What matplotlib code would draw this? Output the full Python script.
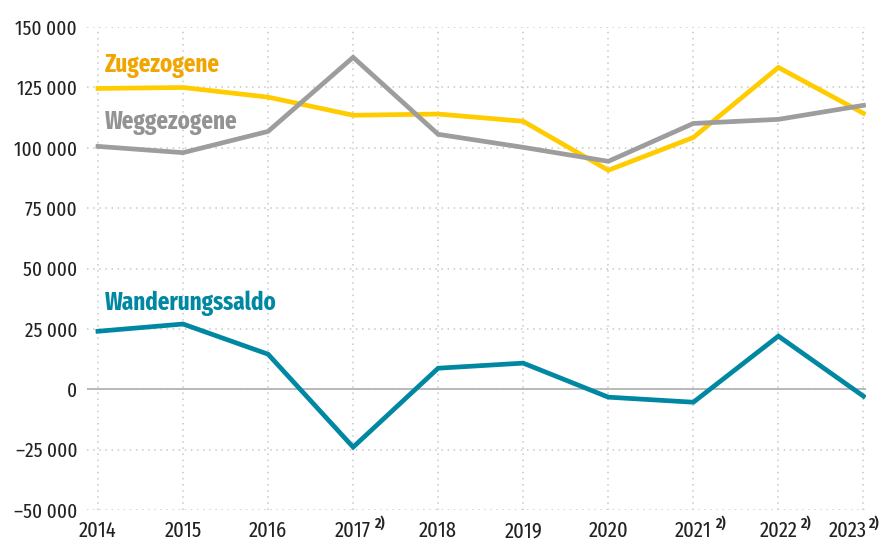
import matplotlib.pyplot as plt

years = [2014, 2015, 2016, 2017, 2018, 2019, 2020, 2021, 2022, 2023]
year_labels = ['2014', '2015', '2016', '2017', '2018', '2019', '2020', '2021', '2022', '2023']
footnote_years = [2017, 2021, 2022, 2023]
zugezogene = [124600, 125000, 121000, 113500, 114000, 111000, 90700, 104300, 133300, 114300]
weggezogene = [100600, 98000, 106800, 137500, 105600, 100200, 94400, 110100, 111800, 117600]
saldo = [24000, 27000, 14500, -24000, 8700, 10800, -3300, -5400, 22000, -2900]
yticks = [-50000, -25000, 0, 25000, 50000, 75000, 100000, 125000, 150000]

plt.rcParams['font.family'] = ['Fira Sans Extra Condensed', 'DejaVu Sans']

fig = plt.figure(figsize=(8.96, 5.43), dpi=100)
ax = fig.add_axes([0.097, 0.061, 0.870, 0.889])

ax.plot(years, zugezogene, color='#FFCC00', lw=3.4, solid_joinstyle='miter', zorder=3)
ax.plot(years, weggezogene, color='#9D9D9D', lw=3.4, solid_joinstyle='miter', zorder=3)
ax.plot(years, saldo, color='#0088A3', lw=3.4, solid_joinstyle='miter', zorder=4)
ax.axhline(0, color='#B4B4B4', lw=1.3, zorder=2)

ax.set_xlim(2013.87, 2023.035)
ax.set_ylim(-50000, 150000)
ax.set_xticks(years)
# letzte Jahreszahl wird unten von Hand gesetzt (rechtsbündig)
ax.set_xticklabels(year_labels[:-1] + [''])
ax.set_yticks(yticks)
ax.set_yticklabels([f'{v:,}'.replace(',', ' ').replace('-', '–') for v in yticks])
ax.tick_params(length=0, colors='#222222')
ax.tick_params(axis='y', pad=7, labelsize=15)
ax.tick_params(axis='x', pad=7.5, labelsize=16)
ax.grid(True, color='#C8C8C8', ls=(0, (1, 3)), lw=1.1)
for s in ax.spines.values():
    s.set_visible(False)

trans = ax.get_xaxis_transform()
ax.annotate(year_labels[-1], xy=(2023.035, 0), xycoords=trans, xytext=(0, -7.5),
            textcoords='offset points', ha='right', va='top', fontsize=16, color='#222222')

# Fußnotenzeichen hinter den Jahreszahlen
for y in footnote_years:
    x0 = 2023.035 + 0.02 if y == 2023 else y + 0.25
    ax.annotate('2)', xy=(x0, 0), xycoords=trans, xytext=(0, -4.5),
                textcoords='offset points', ha='left', va='top', fontsize=11,
                fontweight='semibold', color='#222222')

ax.text(2014.08, 134000, 'Zugezogene', color='#F0A500', fontsize=18, fontweight='bold', va='center')
ax.text(2014.08, 110500, 'Weggezogene', color='#939393', fontsize=18, fontweight='bold', va='center')
ax.text(2014.08, 35600, 'Wanderungssaldo', color='#0088A3', fontsize=18, fontweight='bold', va='center')

fig.savefig('out.png', dpi=100)
